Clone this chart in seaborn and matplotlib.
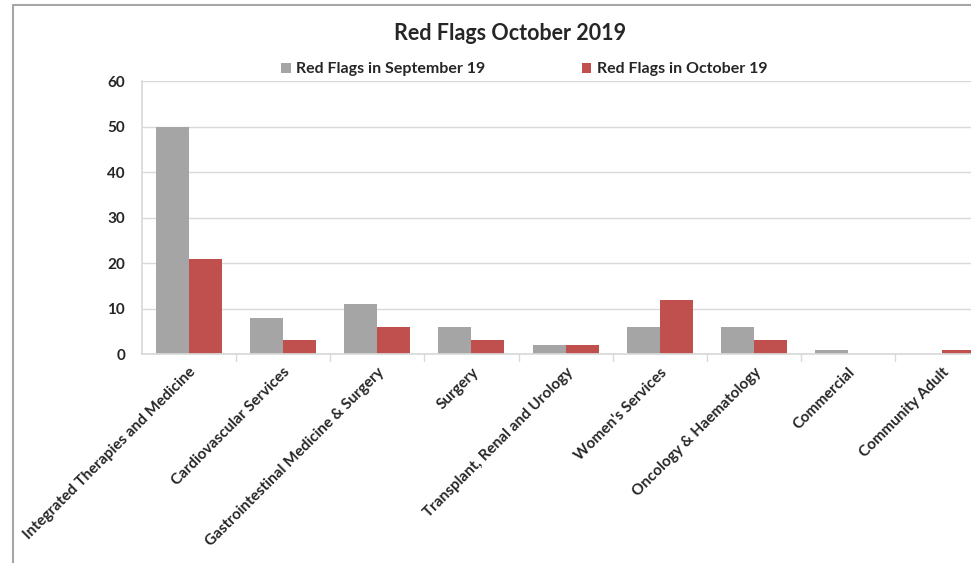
import matplotlib
matplotlib.use("Agg")
import matplotlib.pyplot as plt
import seaborn as sns
import pandas as pd
from matplotlib.lines import Line2D

categories = ["Integrated Therapies and Medicine", "Cardiovascular Services",
              "Gastrointestinal Medicine & Surgery", "Surgery",
              "Transplant, Renal and Urology", "Women's Services",
              "Oncology & Haematology", "Commercial", "Community Adult"]
sep_values = [50, 8, 11, 6, 2, 6, 6, 1, 0]
oct_values = [21, 3, 6, 3, 2, 12, 3, 0, 1]
series_names = ["Red Flags in September 19", "Red Flags in October 19"]
yticks = [0, 10, 20, 30, 40, 50, 60]

df = pd.DataFrame({
    "category": categories * 2,
    "value": sep_values + oct_values,
    "series": [series_names[0]] * len(categories) + [series_names[1]] * len(categories),
})

sns.set_theme(style="white")
plt.rcParams['font.family'] = ['Lato', 'DejaVu Sans']
plt.rcParams['font.weight'] = 'bold'

fig = plt.figure(figsize=(9.71, 5.63), dpi=100)
ax = fig.add_axes([0.146, 0.371, 0.873, 0.485])

sns.barplot(data=df, x="category", y="value", hue="series",
            palette=["#A5A5A5", "#C0504D"], width=0.70, gap=0,
            saturation=1, linewidth=0, ax=ax, legend=True)

ax.set_ylim(0, 60)
ax.set_yticks(yticks)
ax.set_yticklabels([str(v) for v in yticks], fontsize=11, fontweight='bold')
ax.yaxis.grid(True, color="#D9D9D9", linewidth=1)
ax.set_axisbelow(True)
ax.set_xlim(-0.5, len(categories) - 0.5)
ax.set_xlabel("")
ax.set_ylabel("")
for s in ["top", "right"]:
    ax.spines[s].set_visible(False)
ax.spines["left"].set_color("#D9D9D9")
ax.spines["bottom"].set_color("#D9D9D9")
ax.tick_params(axis="y", length=0, pad=12)
ax.set_xticks(range(len(categories)))
ax.set_xticklabels(categories, rotation=45, ha="right", rotation_mode="anchor",
                   fontsize=11, fontweight='bold')
ax.tick_params(axis="x", length=0, pad=8)
# category boundary ticks
for b in range(1, len(categories)):
    ax.plot([b - 0.5, b - 0.5], [0, -1.5], color="#D9D9D9", lw=1, clip_on=False)

handles, labels = ax.get_legend_handles_labels()
leg = ax.legend(handles, labels, loc="upper center", frameon=False, ncol=2,
                handlelength=0.6, handleheight=0.6,
                columnspacing=6.0, handletextpad=0.35,
                prop={'weight': 'bold', 'size': 11.5})
leg.set_bbox_to_anchor((0.540, 0.915), transform=fig.transFigure)

fig.text(0.525, 0.94, "Red Flags October 2019", ha="center", va="center",
         fontsize=15.5, fontweight="bold")

# outer chart frame (top and left edges visible)
fig.add_artist(Line2D([0.0135, 1.0], [0.992, 0.992], transform=fig.transFigure,
                      color="#A6A6A6", lw=1.5))
fig.add_artist(Line2D([0.0135, 0.0135], [0.0, 0.992], transform=fig.transFigure,
                      color="#A6A6A6", lw=1.5))

fig.savefig("out.png", dpi=100)
